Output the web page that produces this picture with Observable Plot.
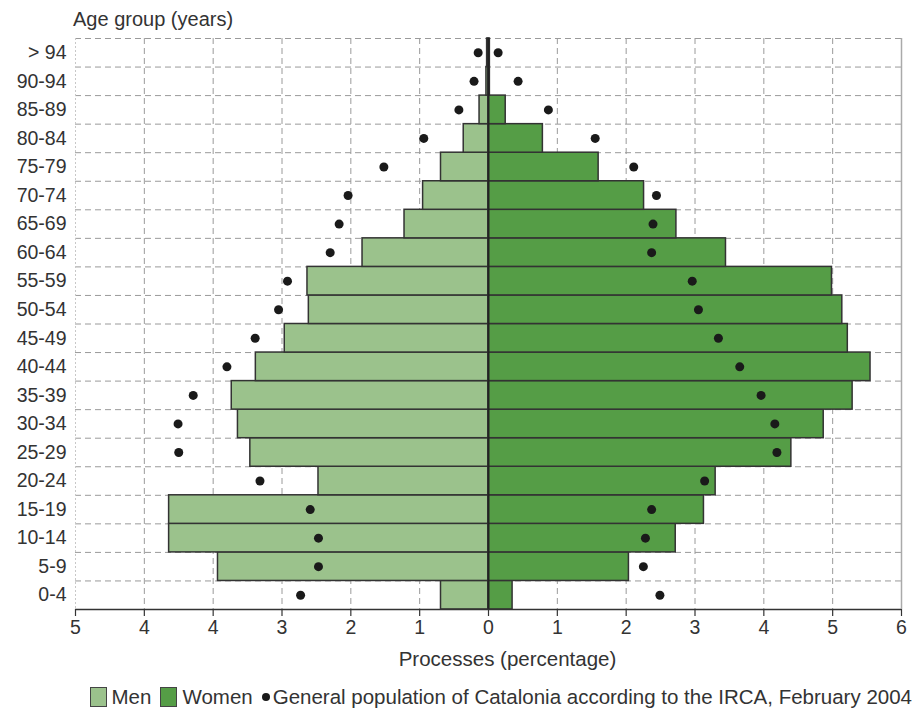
<!DOCTYPE html>
<html>
<head>
<meta charset="utf-8">
<script src="https://cdn.jsdelivr.net/npm/d3@7"></script>
<script src="https://cdn.jsdelivr.net/npm/@observablehq/plot@0.6"></script>
<style>
  html, body { margin: 0; padding: 0; background: #fff; }
  body { width: 916px; height: 710px; overflow: hidden; font-family: "Liberation Sans", Arial, sans-serif; color: #333; }
  #title { height: 32px; font-size: 20px; line-height: 20px; padding-left: 73px; padding-top: 9px; box-sizing: border-box; }
  #legend { display: flex; justify-content: flex-end; align-items: center; font-size: 20.5px; padding-right: 4px; height: 30px; margin-top: 2px; }
  .sw { width: 17px; height: 20px; border: 1.5px solid #444; box-sizing: border-box; margin-right: 5px; }
  .item { display: flex; align-items: center; margin-left: 9px; }
  .dot { width: 8px; height: 8px; border-radius: 50%; background: #1a1a1a; margin-right: 3px; }
</style>
</head>
<body>
<div id="title">Age group (years)</div>
<div id="chart"></div>
<div id="legend">
  <div class="item"><div class="sw" style="background:#9bc28c"></div>Men</div>
  <div class="item"><div class="sw" style="background:#559d46"></div>Women</div>
  <div class="item"><div class="dot"></div>General population of Catalonia according to the IRCA, February 2004</div>
</div>
<script>
const ageGroups = ["0-4","5-9","10-14","15-19","20-24","25-29","30-34","35-39","40-44","45-49","50-54","55-59","60-64","65-69","70-74","75-79","80-84","85-89","90-94","> 94"];
const men = [0.69, 3.93, 4.64, 4.64, 2.47, 3.46, 3.64, 3.73, 3.38, 2.96, 2.61, 2.63, 1.83, 1.22, 0.95, 0.69, 0.36, 0.13, 0.03, 0.02];
const women = [0.35, 2.04, 2.72, 3.13, 3.30, 4.40, 4.87, 5.29, 5.55, 5.22, 5.14, 4.99, 3.45, 2.73, 2.26, 1.60, 0.79, 0.25, 0.02, 0.02];
const popMen = [2.73, 2.47, 2.47, 2.59, 3.32, 4.50, 4.51, 4.29, 3.80, 3.39, 3.05, 2.92, 2.30, 2.17, 2.04, 1.52, 0.94, 0.43, 0.21, 0.15];
const popWomen = [2.49, 2.25, 2.28, 2.37, 3.14, 4.19, 4.16, 3.96, 3.65, 3.34, 3.05, 2.96, 2.37, 2.39, 2.44, 2.11, 1.55, 0.87, 0.43, 0.14];
const xTicks = [-6,-5,-4,-3,-2,-1,0,1,2,3,4,5,6];
const xTickLabels = ["5","4","4","3","2","1","0","1","2","3","4","5","6"];

const menColor = "#9bc28c";
const womenColor = "#559d46";

const table = ageGroups.map((g, i) => ({g, i, men: men[i], women: women[i], popMen: popMen[i], popWomen: popWomen[i]}));
const rows = d3.range(ageGroups.length + 1);

const chart = Plot.plot({
  width: 916,
  height: 648,
  marginLeft: 75,
  marginRight: 15,
  marginTop: 6,
  marginBottom: 71,
  x: {domain: [-6, 6]},
  y: {domain: [0, ageGroups.length]},
  style: {fontFamily: "'Liberation Sans', Arial, sans-serif", fontSize: "19.5px", color: "#333", background: "#fff"},
  marks: [
    Plot.ruleX(xTicks.filter(v => v !== 0 && Math.abs(v) !== 6), {stroke: "#9a9a9a", strokeDasharray: "6,4", strokeWidth: 1}),
    Plot.ruleY(rows.filter(v => v > 0), {stroke: "#9a9a9a", strokeDasharray: "6,4", strokeWidth: 1}),
    Plot.ruleX([xTicks[0]], {stroke: "#c8c8c8", strokeDasharray: "2,2", strokeWidth: 1}),
    Plot.ruleX([xTicks[xTicks.length - 1]], {stroke: "#aaa", strokeWidth: 1.5}),
    Plot.rect(table, {x1: d => -d.men, x2: () => 0, y1: "i", y2: d => d.i + 1, fill: menColor, stroke: "#333", strokeWidth: 1.5}),
    Plot.rect(table, {x1: () => 0, x2: "women", y1: "i", y2: d => d.i + 1, fill: womenColor, stroke: "#333", strokeWidth: 1.5}),
    Plot.ruleX([0], {stroke: "#222", strokeWidth: 2}),
    Plot.ruleY([0], {stroke: "#333", strokeWidth: 1.5}),
    Plot.dot(table, {x: d => -d.popMen, y: d => d.i + 0.5, r: 4.5, fill: "#1a1a1a", stroke: "none"}),
    Plot.dot(table, {x: "popWomen", y: d => d.i + 0.5, r: 4.5, fill: "#1a1a1a", stroke: "none"}),
    Plot.axisX({ticks: xTicks, tickFormat: v => xTickLabels[xTicks.indexOf(v)], tickSize: 7, tickPadding: 4, label: null, stroke: "#333", strokeWidth: 1.2}),
    Plot.axisY({ticks: ageGroups.map((g, i) => i + 0.5), tickFormat: v => ageGroups[Math.floor(v)], tickSize: 0, tickPadding: 9, label: null}),
    Plot.text(["Processes (percentage)"], {frameAnchor: "bottom", dy: 56, dx: 19, fill: "#333", fontSize: 20.5})
  ]
});
document.getElementById("chart").appendChild(chart);
</script>
</body>
</html>
